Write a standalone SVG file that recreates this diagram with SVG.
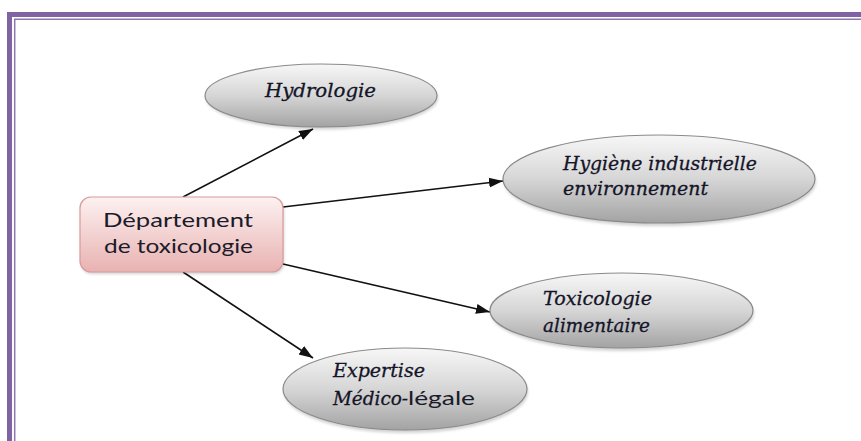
<svg xmlns="http://www.w3.org/2000/svg" width="861" height="441" viewBox="0 0 861 441">
<style>
.ell{fill:url(#gGray);stroke:#8a8a8a;stroke-width:1.2}
.sh{fill:#000;opacity:0.18;filter:url(#blur)}
.script{font-family:"DejaVu Serif","Liberation Serif",serif;font-style:italic;font-size:18px;fill:#141428;stroke:#141428;stroke-width:0.3}
.sans{font-family:Lato,"Open Sans","Liberation Sans",sans-serif;font-size:20px;fill:#1b1b2a}
.conn{stroke:#111;stroke-width:1.6;fill:none;marker-end:url(#arr)}
.frame{fill:#8064a2}
.thin{stroke:#8f76b0;stroke-width:1.5;fill:none}
</style>
<defs>
<linearGradient id="gGray" x1="0" y1="0" x2="0" y2="1">
<stop offset="0" stop-color="#f7f7f7"/>
<stop offset="0.5" stop-color="#d6d6d6"/>
<stop offset="1" stop-color="#a3a3a3"/>
</linearGradient>
<linearGradient id="gPink" x1="0" y1="0" x2="0" y2="1">
<stop offset="0" stop-color="#fdf1f1"/>
<stop offset="1" stop-color="#e8b2b1"/>
</linearGradient>
<filter id="blur" x="-10%" y="-10%" width="120%" height="130%"><feGaussianBlur stdDeviation="1.5"/></filter>
<marker id="arr" markerUnits="userSpaceOnUse" markerWidth="15" markerHeight="12" viewBox="0 0 15 12" refX="14" refY="6" orient="auto">
<path d="M0,1 L14,6 L0,11 Z" fill="#111"/>
</marker>
</defs>
<rect width="861" height="441" fill="#fff"/>
<g id="frame">
<rect class="frame" x="7" y="12" width="854" height="5"/>
<rect class="frame" x="7" y="12" width="5" height="429"/>
<path class="thin" d="M14.7,441 V19.2 H861"/>
</g>
<g id="connectors">
<line class="conn" x1="183" y1="197" x2="313" y2="129"/>
<line class="conn" x1="283" y1="207" x2="503" y2="181"/>
<line class="conn" x1="283" y1="264" x2="490" y2="312"/>
<line class="conn" x1="183" y1="272" x2="313" y2="358"/>
</g>
<g id="node-departement">
<rect class="sh" x="81" y="199" width="203" height="75" rx="11"/>
<rect x="80" y="197" width="203" height="75" rx="11" fill="url(#gPink)" stroke="#d79a99" stroke-width="1.2"/>
<text class="sans" x="103" y="227" textLength="150" lengthAdjust="spacingAndGlyphs">Département</text>
<text class="sans" x="104" y="253" textLength="149" lengthAdjust="spacingAndGlyphs">de toxicologie</text>
</g>
<g id="node-hydrologie">
<ellipse class="sh" cx="322" cy="98" rx="116" ry="31.5"/>
<ellipse class="ell" cx="321" cy="95.5" rx="116" ry="31.5"/>
<text class="script" x="265" y="97" textLength="111" lengthAdjust="spacingAndGlyphs">Hydrologie</text>
</g>
<g id="node-hygiene">
<ellipse class="sh" cx="660" cy="182" rx="156" ry="44"/>
<ellipse class="ell" cx="659" cy="179" rx="156" ry="44"/>
<text class="script" x="563" y="170" textLength="194" lengthAdjust="spacingAndGlyphs">Hygiène industrielle</text>
<text class="script" x="563" y="195" textLength="145" lengthAdjust="spacingAndGlyphs">environnement</text>
</g>
<g id="node-toxicologie">
<ellipse class="sh" cx="622.5" cy="313.5" rx="131.5" ry="37.5"/>
<ellipse class="ell" cx="621.5" cy="310.5" rx="131.5" ry="37.5"/>
<text class="script" x="543" y="305" textLength="109" lengthAdjust="spacingAndGlyphs">Toxicologie</text>
<text class="script" x="543" y="332" textLength="107" lengthAdjust="spacingAndGlyphs">alimentaire</text>
</g>
<g id="node-expertise">
<ellipse class="sh" cx="406" cy="392" rx="122" ry="41"/>
<ellipse class="ell" cx="405" cy="389" rx="122" ry="41"/>
<text class="script" x="333" y="377" textLength="92" lengthAdjust="spacingAndGlyphs">Expertise</text>
<text x="333" y="405"><tspan class="script" textLength="75" lengthAdjust="spacingAndGlyphs">Médico-</tspan><tspan class="sans" x="408" textLength="67" lengthAdjust="spacingAndGlyphs">légale</tspan></text>
</g>
</svg>
